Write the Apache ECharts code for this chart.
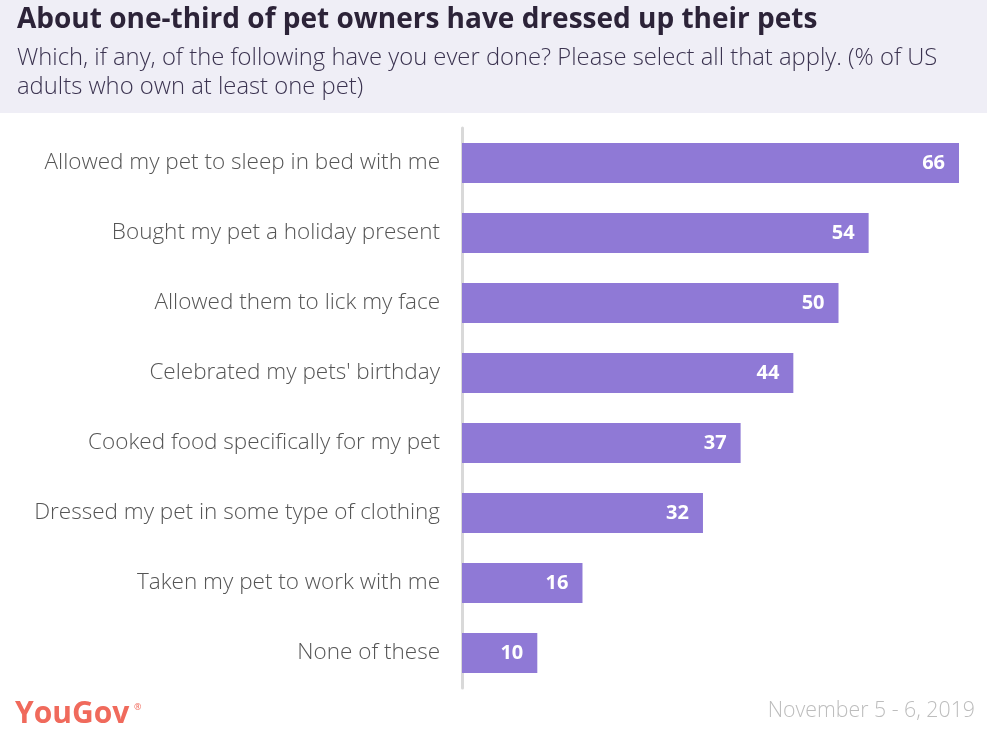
<!DOCTYPE html>
<html><head><meta charset="utf-8">
<script src="https://cdn.jsdelivr.net/npm/echarts@6/dist/echarts.min.js"></script>
<style>html,body{margin:0;padding:0;background:#fff}#c{width:987px;height:733px}</style>
</head><body><div id="c"></div>
<script>
const categories = [
  "Allowed my pet to sleep in bed with me",
  "Bought my pet a holiday present",
  "Allowed them to lick my face",
  "Celebrated my pets' birthday",
  "Cooked food specifically for my pet",
  "Dressed my pet in some type of clothing",
  "Taken my pet to work with me",
  "None of these"
];
const values = [66, 54, 50, 44, 37, 32, 16, 10];
const titleText = "About one-third of pet owners have dressed up their pets";
const subtitleText = "Which, if any, of the following have you ever done? Please select all that apply. (% of US\nadults who own at least one pet)";
const dateText = "November 5 - 6, 2019";

const chart = echarts.init(document.getElementById('c'), null, {renderer: 'canvas'});
const FONT = "'Open Sans', 'Lato', sans-serif";
chart.setOption({
  animation: false,
  backgroundColor: '#ffffff',
  graphic: [
    {type: 'rect', left: 0, top: 0, shape: {width: 987, height: 113}, style: {fill: '#efeef6'}, z: -1},
    {type: 'text', left: 17, top: 6, style: {text: titleText, font: "bold 28px " + FONT, fill: '#2c2338'}},
    {type: 'text', left: 17, top: 44, style: {text: subtitleText, font: "300 23.8px " + FONT, fill: '#3b3350', lineHeight: 29}},
    {type: 'text', left: 15, top: 699, style: {text: 'YouGov', font: "bold 30px " + FONT, fill: '#f06a5c'}},
    {type: 'text', left: 134, top: 703, style: {text: '®', font: "9px " + FONT, fill: '#f06a5c'}},
    {type: 'text', right: 12, top: 700, style: {text: dateText, font: "300 21.3px " + FONT, fill: '#bdbdbd'}}
  ],
  grid: {left: 462, top: 128, width: 497, height: 560, containLabel: false},
  xAxis: {type: 'value', min: 0, max: 66, show: false},
  yAxis: {
    type: 'category', data: categories, inverse: true,
    axisLine: {show: true, lineStyle: {color: '#d9d9d9', width: 3}},
    axisTick: {show: false},
    axisLabel: {color: '#555555', fontSize: 22.5, fontWeight: 300, fontFamily: FONT, margin: 22}
  },
  series: [{
    type: 'bar', data: values, barWidth: 40,
    itemStyle: {color: '#8f79d6'},
    label: {show: true, position: 'insideRight', distance: 14, color: '#ffffff', fontSize: 20, fontWeight: 'bold', fontFamily: FONT}
  }]
});
</script></body></html>
